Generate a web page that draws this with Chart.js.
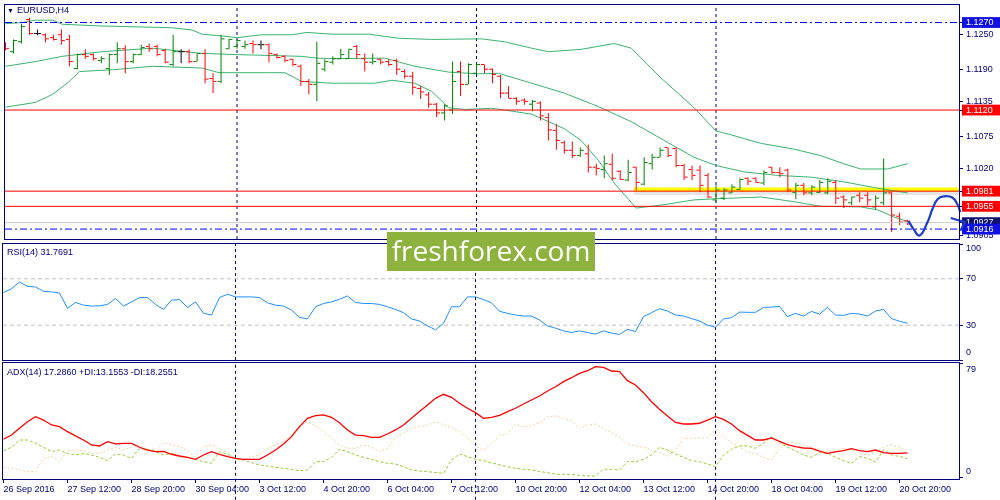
<!DOCTYPE html>
<html lang="en">
<head>
<meta charset="UTF-8">
<title>EURUSD,H4</title>
<script src="https://cdn.jsdelivr.net/npm/chart.js@4"></script>
<style>
  body { margin: 0; background: #fff; }
  #wrap { position: relative; width: 1000px; height: 500px; overflow: hidden; background: #fff; }
  #wrap canvas { position: absolute; left: 0; }
  .lbl { position: absolute; left: 7px; font: 9px "Liberation Sans", Arial, sans-serif; color: #000080; line-height: 10px; white-space: nowrap; }
  .lbl .tri { font-size: 7px; margin-right: 3px; }
  #brand { position: absolute; left: 387px; top: 232px; width: 208px; height: 39px; background: #8db33e; color: #fff;
           font: 28px "Open Sans", sans-serif; line-height: 37px; text-align: center; }
</style>
</head>
<body>
<div id="wrap">
  <canvas id="priceChart" width="1000" height="244" style="top:0"></canvas>
  <canvas id="rsiChart" width="1000" height="130" style="top:236px"></canvas>
  <canvas id="adxChart" width="1000" height="144" style="top:356px"></canvas>
  <div class="lbl" style="top:5px"><span class="tri">▼</span>EURUSD,H4</div>
  <div class="lbl" style="top:247px">RSI(14) 31.7691</div>
  <div class="lbl" style="top:367px">ADX(14) 17.2860 +DI:13.1553 -DI:18.2551</div>
  <div id="brand">freshforex.com</div>
</div>

<script>
// H4 bars, index 0 = first bar on screen (26 Sep 2016)
const open = [1.1234,1.1220,1.1237,1.1275,1.1251,1.1249,1.1244,1.1249,1.1241,1.1191,
  1.1215,1.1215,1.1205,1.1191,1.1215,1.1225,1.1203,1.1215,1.1229,1.1229,
  1.1222,1.1198,1.1220,1.1220,1.1203,1.1217,1.1174,1.1169,1.1225,1.1229,
  1.1229,1.1234,1.1232,1.1232,1.1215,1.1212,1.1207,1.1195,1.1169,1.1164,
  1.1190,1.1202,1.1208,1.1208,1.1229,1.1208,1.1202,1.1207,1.1203,1.1205,
  1.1186,1.1178,1.1157,1.1146,1.1130,1.1115,1.1120,1.1186,1.1164,1.1183,
  1.1198,1.1190,1.1178,1.1149,1.1140,1.1137,1.1130,1.1132,1.1107,1.1085,
  1.1064,1.1051,1.1042,1.1045,1.1022,1.1018,1.1027,1.1015,1.1000,1.1022,
  1.0993,1.1028,1.1039,1.1056,1.1054,1.1025,1.1018,1.1017,1.1008,1.0966,
  1.0969,1.0978,1.0984,1.1003,1.1003,1.0995,1.1022,1.1013,1.1017,1.0979,
  1.0991,1.0978,1.0979,1.0978,1.0996,1.0971,1.0961,1.0974,1.0974,1.0954,
  1.0961,1.0978,1.0938,1.0930];
const high = [1.1236,1.1241,1.1268,1.1278,1.1258,1.1251,1.1249,1.1258,1.1249,1.1217,
  1.1224,1.1217,1.1212,1.1217,1.1236,1.1231,1.1217,1.1232,1.1234,1.1232,
  1.1225,1.1249,1.1224,1.1224,1.1217,1.1224,1.1183,1.1249,1.1242,1.1241,
  1.1239,1.1239,1.1239,1.1234,1.1217,1.1214,1.1208,1.1198,1.1173,1.1237,
  1.1207,1.1212,1.1225,1.1225,1.1232,1.1217,1.1217,1.1208,1.1207,1.1208,
  1.1190,1.1185,1.1161,1.1151,1.1132,1.1130,1.1203,1.1203,1.1200,1.1200,
  1.1198,1.1191,1.1180,1.1161,1.1142,1.1140,1.1137,1.1135,1.1115,1.1096,
  1.1068,1.1066,1.1056,1.1061,1.1028,1.1042,1.1045,1.1017,1.1035,1.1023,
  1.1039,1.1045,1.1056,1.1056,1.1056,1.1028,1.1025,1.1025,1.1012,1.0991,
  1.0986,1.0993,1.1003,1.1005,1.1005,1.1017,1.1023,1.1022,1.1020,1.0995,
  1.0995,1.0991,1.1000,1.1003,1.1000,1.0974,1.0972,1.0979,1.0979,1.0974,
  1.1037,1.0979,1.0944,1.0932];
const low = [1.1222,1.1217,1.1234,1.1249,1.1248,1.1236,1.1239,1.1232,1.1195,1.1190,
  1.1208,1.1205,1.1200,1.1180,1.1200,1.1183,1.1200,1.1214,1.1220,1.1212,
  1.1200,1.1195,1.1200,1.1200,1.1203,1.1166,1.1149,1.1166,1.1224,1.1225,
  1.1225,1.1217,1.1224,1.1202,1.1208,1.1202,1.1195,1.1161,1.1147,1.1135,
  1.1186,1.1198,1.1207,1.1208,1.1208,1.1186,1.1198,1.1198,1.1195,1.1180,
  1.1174,1.1146,1.1139,1.1124,1.1108,1.1102,1.1113,1.1144,1.1164,1.1181,
  1.1183,1.1166,1.1140,1.1140,1.1129,1.1129,1.1118,1.1102,1.1068,1.1052,
  1.1045,1.1038,1.1040,1.1013,1.1008,1.1003,1.1000,1.1000,1.0998,1.0983,
  1.0991,1.1018,1.1039,1.1039,1.1022,1.1000,1.1000,1.0979,1.0969,1.0962,
  1.0966,1.0978,1.0983,1.0991,1.0995,1.0991,1.1011,1.1005,1.0979,1.0967,
  1.0974,1.0974,1.0978,1.0976,1.0959,1.0952,1.0957,1.0962,1.0957,1.0950,
  1.0957,1.0911,1.0923,1.0923];
const close = [1.1225,1.1239,1.1263,1.1251,1.1251,1.1242,1.1241,1.1239,1.1203,1.1215,
  1.1212,1.1208,1.1208,1.1215,1.1225,1.1203,1.1215,1.1227,1.1225,1.1215,
  1.1202,1.1220,1.1220,1.1203,1.1217,1.1173,1.1169,1.1242,1.1241,1.1239,
  1.1232,1.1232,1.1232,1.1217,1.1210,1.1205,1.1198,1.1169,1.1164,1.1200,
  1.1203,1.1208,1.1215,1.1224,1.1215,1.1202,1.1203,1.1202,1.1198,1.1190,
  1.1178,1.1159,1.1151,1.1130,1.1115,1.1127,1.1169,1.1164,1.1198,1.1198,
  1.1190,1.1181,1.1149,1.1140,1.1135,1.1135,1.1135,1.1110,1.1086,1.1068,
  1.1051,1.1042,1.1051,1.1022,1.1020,1.1028,1.1003,1.1001,1.1013,1.0996,
  1.1030,1.1039,1.1051,1.1042,1.1025,1.1005,1.1008,1.0991,1.0971,1.0983,
  1.0983,1.0988,1.1001,1.0998,1.0996,1.1013,1.1013,1.1011,1.0983,1.0991,
  1.0978,1.0988,1.0996,1.0998,1.0969,1.0966,1.0971,1.0969,1.0966,1.0969,
  1.0978,1.0940,1.0928,1.0925];

// Bollinger bands, read at a few bar positions
const bbUpperX = [0,2.1,3.75,5.9,7.1,12.1,20.9,23.4,24.6,27.1,29,32.1,35.9,37.75,40.9,45.5,49.25,53.4,59.6,62.5,
  65.9,68,72.1,76.25,78.4,82.1,86.25,89,90.5,94.6,98.75,102.1,105,107.1,110.5,113];
const bbUpper = [1.1268,1.1270,1.1274,1.1274,1.1267,1.1264,1.1261,1.1257,1.1250,1.1247,1.1244,1.1249,1.1249,1.1253,1.1250,1.1250,1.1243,1.1241,1.1242,1.1237,
  1.1226,1.1220,1.1224,1.1234,1.1226,1.1175,1.1124,1.1084,1.1079,1.1063,1.1053,1.1042,1.1028,1.1019,1.1019,1.1028];
const bbMiddleX = [0,3.75,7.1,12.1,18.4,24.6,29,37.1,39,40.9,47.5,51.25,55.5,59.25,61.75,65.9,70,74.25,78.4,82.1,
  86.25,89,92.5,96.75,100.9,105,109.25,113];
const bbMiddle = [1.1195,1.1203,1.1212,1.1220,1.1226,1.1217,1.1215,1.1212,1.1209,1.1208,1.1209,1.1195,1.1185,1.1182,1.1183,1.1166,1.1149,1.1126,1.1100,1.1071,
  1.1039,1.1025,1.1014,1.1008,1.1005,1.0997,1.0986,1.0978];
const bbLowerX = [0,3.75,5.9,8,9.25,13.4,18.4,24.6,26.75,35,37.1,40.9,46.25,48.4,51.25,53.4,55.5,57.5,60.9,62.5,
  65.9,70,72.1,74.25,76.25,79,82.1,86.25,89,94.6,98.75,102.1,107.1,109.25,111.25,113];
const bbLower = [1.1125,1.1133,1.1147,1.1169,1.1186,1.1189,1.1195,1.1192,1.1184,1.1184,1.1169,1.1166,1.1166,1.1171,1.1166,1.1152,1.1124,1.1121,1.1123,1.1120,
  1.1113,1.1088,1.1068,1.1034,1.0995,1.0952,1.0957,1.0966,1.0968,1.0971,1.0963,1.0955,1.0954,1.0949,1.0937,1.0929];

const rsi14 = [58.1,61.5,67.2,63.5,62.9,59.2,58.7,57.8,44.5,49.6,
  47.3,46.5,46.7,47.9,53.0,46.5,50.1,53.8,53.8,47.9,
  43.6,51.6,52.1,45.3,50.1,40.2,38.8,53.8,56.7,54.4,
  54.4,54.4,53.8,49.3,47.3,46.5,43.0,36.8,35.4,45.9,
  48.7,50.1,52.4,55.2,49.6,48.7,48.7,47.9,45.9,43.6,
  40.8,35.4,33.7,29.4,26.0,31.7,45.9,45.9,54.4,54.4,
  52.1,49.3,42.0,40.2,38.8,37.9,37.9,34.5,29.4,27.4,
  25.1,23.7,25.1,23.7,22.3,25.1,23.2,22.0,26.5,24.5,
  37.4,40.8,44.2,42.2,38.8,37.9,35.7,33.7,30.0,28.3,
  35.4,36.5,41.3,41.1,41.1,45.3,45.6,46.2,37.4,40.2,
  37.9,41.9,39.6,45.3,38.8,38.5,40.2,39.6,37.9,42.2,
  43.6,35.7,33.4,31.7];

const adx14 = [26.6,29.5,34.1,38.7,42.1,39.8,36.4,35.3,31.8,28.9,
  26.1,22.7,22.0,25.0,23.4,23.8,23.8,21.1,19.2,18.1,
  18.3,16.3,15.1,14.2,12.8,15.8,18.1,16.3,14.7,13.5,
  12.8,12.8,12.8,15.8,19.2,23.4,28.4,35.3,41.0,42.8,
  43.3,41.7,38.0,33.0,29.5,29.1,27.9,27.9,30.2,33.0,
  36.4,41.0,45.6,50.2,54.7,57.5,55.4,51.3,47.9,44.9,
  41.0,41.7,43.0,45.6,47.9,50.8,53.6,56.3,59.8,62.7,
  66.2,68.9,71.9,73.7,76.5,76.0,73.5,73.1,66.9,63.9,
  58.6,52.4,47.2,42.6,38.2,37.1,37.1,37.6,39.8,42.1,
  40.3,37.1,32.5,29.3,26.1,26.1,27.5,25.2,22.9,21.5,
  20.6,20.4,18.5,16.9,17.9,18.8,20.2,18.8,18.1,19.2,
  17.4,16.9,16.9,17.3];
const plusDI = [18.8,21.1,26.1,26.1,23.8,21.1,18.1,19.2,16.9,15.8,
  16.9,15.8,14.2,11.9,16.5,15.8,13.5,20.4,19.7,18.1,
  15.8,16.9,14.7,14.2,12.8,11.2,10.1,18.1,16.3,13.3,
  12.4,10.5,8.9,8.2,7.3,6.6,6.0,5.0,5.5,11.2,
  11.2,14.2,19.7,18.1,15.8,14.2,12.8,11.2,10.1,9.6,
  7.8,5.5,4.8,4.4,3.7,3.2,12.4,16.5,14.7,12.8,
  11.9,10.5,9.0,7.8,6.6,6.0,5.5,4.4,3.7,2.7,
  2.5,2.5,1.8,1.4,1.4,6.0,6.0,5.5,11.2,11.2,
  12.8,15.8,21.1,19.2,16.5,14.2,11.9,11.2,9.6,7.8,
  15.8,19.7,22.0,22.0,20.4,23.8,28.4,24.3,21.1,18.8,
  15.8,14.2,17.4,16.9,14.2,11.9,10.1,14.7,13.5,11.0,
  19.2,15.8,14.7,13.2];
const minusDI = [7.3,6.6,5.5,4.4,4.4,13.5,14.7,11.2,18.8,19.2,
  18.8,16.9,16.9,19.2,21.1,19.2,21.1,22.7,19.7,19.2,
  24.3,22.7,21.5,18.8,14.7,21.1,22.7,19.7,17.4,12.8,
  12.4,14.7,15.8,20.4,22.7,25.0,29.5,35.7,38.7,35.7,
  31.8,27.3,22.7,20.4,20.4,22.7,21.1,18.1,20.4,27.9,
  31.1,34.1,35.3,36.4,38.7,36.4,34.8,31.8,27.3,22.0,
  19.2,23.8,29.2,30.2,37.1,35.3,35.7,38.0,42.1,42.6,
  41.0,39.4,34.1,36.4,37.1,34.1,31.1,27.9,23.4,22.0,
  21.1,19.2,17.4,15.1,19.7,27.3,27.3,27.3,27.9,33.0,
  28.9,23.8,21.1,18.1,16.5,14.2,12.4,20.4,24.3,24.3,
  22.7,21.1,19.7,18.1,19.2,20.4,19.7,16.9,15.8,18.1,
  21.1,22.7,21.1,18.3];

// time axis: one label every 8 bars
const xLabels = ['26 Sep 2016','27 Sep 12:00','28 Sep 20:00','30 Sep 04:00','3 Oct 12:00','4 Oct 20:00',
  '6 Oct 04:00','7 Oct 12:00','10 Oct 20:00','12 Oct 04:00','13 Oct 12:00','14 Oct 20:00',
  '18 Oct 04:00','19 Oct 12:00','20 Oct 20:00'];
const weekStarts = [29, 59, 89];

// horizontal levels and price scale labels
const blueLevels = [1.1270, 1.0916];
const redLevels = [1.1120, 1.0981, 1.0955];
const bidPrice = 1.0927;
const zonePrice = 1.0984;
const zoneStart = 78.7;
const priceTicks = [1.1250, 1.1190, 1.1135, 1.1075, 1.1020, 1.0905];
const rsiLevels = [70, 30];
const rsiTicks = [100, 70, 30, 0];
const adxTicks = [79, 0];

// hand drawn forecast arrow
const sketchX = [113.1, 113.75, 114.5, 115.5, 116.1, 116.75, 117.5, 118.6, 119.25, 119.6, 119.9];
const sketchY = [1.0930, 1.0916, 1.0905, 1.0928, 1.0950, 1.0967, 1.0972, 1.0970, 1.0958, 1.0945, 1.0933];
const headX = [118.4, 120.2, 119.6];
const headY = [1.0935, 1.0928, 1.0913];

const NAVY = '#000080';
const X_MIN = -0.0625, X_MAX = 119.4375;
const P_MIN = 1.0899, P_MAX = 1.1300;

Chart.defaults.font.family = '"Liberation Sans", Arial, sans-serif';
Chart.defaults.font.size = 9;
Chart.defaults.color = NAVY;

const pts = (xs, ys) => xs.map((x, k) => ({ x, y: ys[k] }));
const barColors = close.map((c, i) => c > open[i] ? '#008000' : c < open[i] ? '#ff0000' : '#000000');

function hline(y, color, dash, order) {
  return { type: 'line', data: [{ x: X_MIN, y }, { x: X_MAX, y }], borderColor: color, borderWidth: 1,
           borderDash: dash || [], pointRadius: 0, order: order || 2 };
}
function vlines(lo, hi, clip) {
  return weekStarts.map(w => ({ type: 'line', data: [{ x: w, y: lo }, { x: w, y: hi }], borderColor: NAVY,
    borderWidth: 1, borderDash: [3, 3], pointRadius: 0, order: 20, clip: clip === false ? false : undefined }));
}
function series(data, color, extra) {
  return Object.assign({ type: 'line', data, borderColor: color, borderWidth: 1, pointRadius: 0, tension: 0 }, extra);
}
function barTicks(values, shift) {
  return { type: 'line', showLine: false, data: values.map((v, i) => ({ x: i + shift, y: v })),
           pointStyle: 'line', pointRadius: 1.5, pointBorderWidth: 1, pointBorderColor: barColors, order: 5 };
}

function xAxis(show) {
  return {
    type: 'linear', min: X_MIN, max: X_MAX, display: show, offset: false,
    afterFit: s => { s.height = show ? 21 : 0; s.paddingLeft = 0; s.paddingRight = 0; },
    afterBuildTicks: s => { s.ticks = xLabels.map((_, k) => ({ value: k * 8 })); },
    grid: { offset: false, drawOnChartArea: false, drawTicks: true, tickLength: 4, color: NAVY },
    border: { display: false },
    ticks: { autoSkip: false, maxRotation: 0, minRotation: 0, align: 'start', padding: 1, color: NAVY,
             callback: (v, k) => xLabels[k] }
  };
}
function yAxis(min, max, values, ticks) {
  return {
    position: 'right', min, max, beginAtZero: false,
    afterFit: s => { s.width = 41; s.paddingTop = 0; s.paddingBottom = 0; },
    afterBuildTicks: s => { s.ticks = values.map(v => ({ value: v })); },
    grid: { drawOnChartArea: false, drawTicks: true, tickLength: 4, color: NAVY },
    border: { display: false },
    ticks: Object.assign({ autoSkip: false, padding: 3, color: NAVY }, ticks)
  };
}

// panel frame drawn around each plot area
const frame = {
  id: 'frame',
  afterDraw(chart) {
    const { ctx, chartArea: a } = chart;
    ctx.save();
    ctx.strokeStyle = NAVY;
    ctx.lineWidth = 1;
    ctx.strokeRect(a.left - 0.5, a.top - 0.5, a.right - a.left + 1, a.bottom - a.top + 1);
    ctx.restore();
  }
};
// min / max labels sit just inside the window, like the terminal does
const insetLabels = {
  id: 'insetLabels',
  afterDraw(chart, args, opts) {
    const s = chart.scales.y, ctx = chart.ctx;
    ctx.save();
    ctx.font = '9px "Liberation Sans", Arial, sans-serif';
    ctx.fillStyle = NAVY;
    ctx.textBaseline = 'middle';
    (opts.items || []).forEach(it => ctx.fillText(it.text, s.left + 7, s.getPixelForValue(it.value) + it.dy));
    ctx.restore();
  }
};

function options(pad, scales, insets) {
  return {
    responsive: false, animation: false, events: [],
    layout: { padding: pad },
    elements: { line: { capBezierPoints: false } },
    plugins: { legend: { display: false }, tooltip: { enabled: false }, insetLabels: { items: insets || [] } },
    scales
  };
}

// ---- price window ----
const boxColors = { '1.1270': '#1010e0', '1.1120': '#ff0000', '1.0981': '#ff0000', '1.0955': '#ff0000',
                    '1.0927': '#101070', '1.0916': '#1010e0' };
const boxOf = v => boxColors[v.toFixed(4)];
const priceAxisValues = [...priceTicks, ...redLevels, blueLevels[0], bidPrice, blueLevels[1]];

new Chart(document.getElementById('priceChart'), {
  type: 'line',
  data: {
    datasets: [
      ...vlines(P_MIN, P_MAX),
      series([{ x: zoneStart, y: zonePrice - 0.0006 }, { x: X_MAX, y: zonePrice - 0.0006 }], 'rgba(0,0,0,0.10)', { borderWidth: 4, order: 16 }),
      series([{ x: zoneStart, y: zonePrice }, { x: X_MAX, y: zonePrice }], '#ffff00', { borderWidth: 4, order: 15 }),
      series(pts(bbUpperX, bbUpper), '#3cb371', { order: 12 }),
      series(pts(bbMiddleX, bbMiddle), '#3cb371', { order: 12 }),
      series(pts(bbLowerX, bbLower), '#3cb371', { order: 12 }),
      { type: 'bar', data: close.map((c, i) => ({ x: i, y: [low[i], high[i]] })), backgroundColor: barColors,
        barThickness: 1, inflateAmount: 0, borderWidth: 0, order: 6 },
      barTicks(open, -0.25),
      barTicks(close, 0.25),
      hline(bidPrice, '#c8c8c8', null, 3),
      ...redLevels.map(p => hline(p, '#ff0000')),
      ...blueLevels.map(p => hline(p, '#0000ff', [7, 3, 2, 3])),
      series(pts(sketchX, sketchY), '#1f3fc4', { borderWidth: 2.2, tension: 0.45, clip: false, order: 1 }),
      series(pts(headX, headY), '#1f3fc4', { borderWidth: 2.2, clip: false, order: 1 })
    ]
  },
  options: options({ left: 3, top: 3, bottom: 4 }, {
    x: xAxis(false),
    y: yAxis(P_MIN, P_MAX, priceAxisValues, {
      callback: v => v.toFixed(4),
      color: c => boxOf(c.tick.value) ? '#ffffff' : NAVY,
      showLabelBackdrop: true,
      backdropColor: c => boxOf(c.tick.value) || 'rgba(0,0,0,0)',
      backdropPadding: { top: 0, bottom: 0, left: 4, right: 10 }
    })
  }),
  plugins: [frame]
});

// ---- RSI window ----
new Chart(document.getElementById('rsiChart'), {
  type: 'line',
  data: {
    datasets: [
      ...vlines(0, 100),
      ...rsiLevels.map(v => hline(v, '#c0c0c0', [4, 3], 10)),
      series(rsi14.map((v, i) => ({ x: i, y: v })), '#1e90ff', { order: 1 })
    ]
  },
  options: options({ left: 3, top: 8, bottom: 6 }, {
    x: xAxis(false),
    y: yAxis(0, 100, rsiTicks, { callback: v => rsiLevels.includes(v) ? String(v) : '' })
  }, [{ value: 100, text: '100', dy: 5 }, { value: 0, text: '0', dy: -7 }]),
  plugins: [frame, insetLabels]
});

// ---- ADX window ----
new Chart(document.getElementById('adxChart'), {
  type: 'line',
  data: {
    datasets: [
      ...vlines(-15, 79, false),
      series(minusDI.map((v, i) => ({ x: i, y: v })), '#f2d2a4', { borderDash: [2, 2], order: 4 }),
      series(plusDI.map((v, i) => ({ x: i, y: v })), '#9acd32', { borderDash: [3, 2], order: 3 }),
      series(adx14.map((v, i) => ({ x: i, y: v })), '#ff0000', { borderWidth: 1.3, order: 1 })
    ]
  },
  options: options({ left: 3, top: 7, bottom: 0 }, {
    x: xAxis(true),
    y: yAxis(-0.7, 79, adxTicks, { callback: () => '' })
  }, [{ value: 79, text: '79', dy: 7 }, { value: 0, text: '0', dy: -6 }]),
  plugins: [frame, insetLabels]
});
</script>
</body>
</html>
